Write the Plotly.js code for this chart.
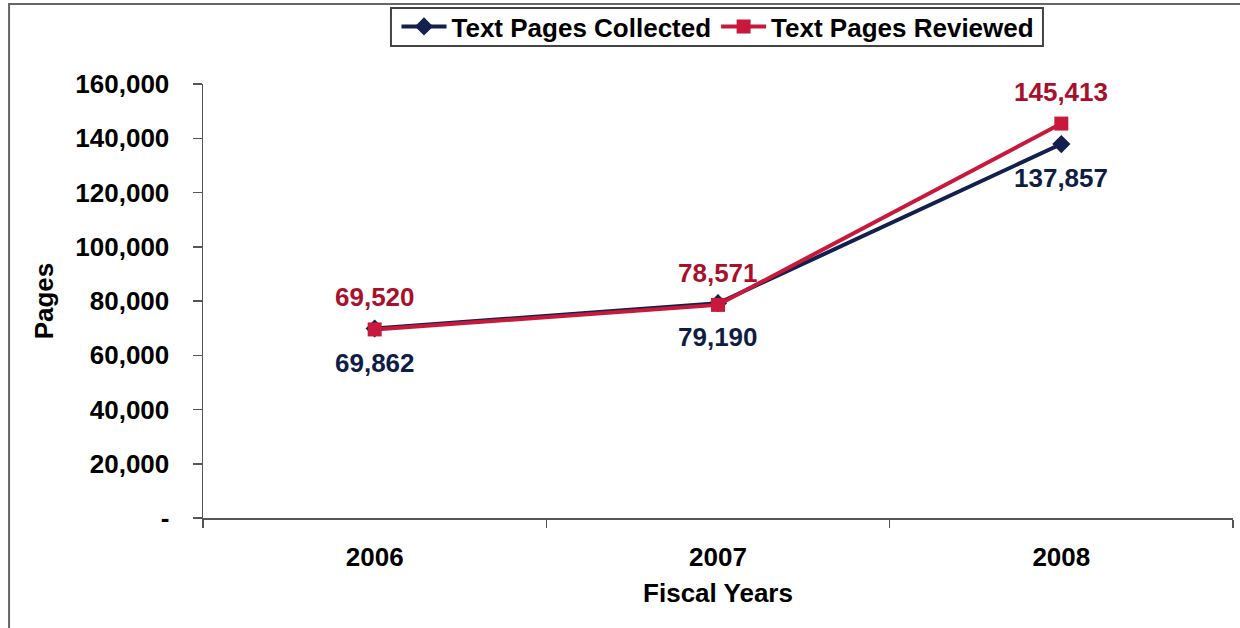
<!DOCTYPE html>
<html>
<head>
<meta charset="utf-8">
<script src="https://cdn.plot.ly/plotly-3.0.1.min.js"></script>
<style>html,body{margin:0;padding:0;background:#fff;}#chart{width:1240px;height:628px;}</style>
</head>
<body>
<div id="chart"></div>
<script>
const years = ["2006", "2007", "2008"];
const collected = [69862, 79190, 137857];
const reviewed = [69520, 78571, 145413];
const yTickVals = [0, 20000, 40000, 60000, 80000, 100000, 120000, 140000, 160000];
const yTickText = ["-", "20,000", "40,000", "60,000", "80,000", "100,000", "120,000", "140,000", "160,000"];
const seriesNames = ["Text Pages Collected", "Text Pages Reviewed"];

const fmt = v => v.toLocaleString("en-US");
const FAM = "Liberation Sans, Arial, sans-serif";
const NAVY = "#13204d";
const RED = "#c8193c";
const FS = 26;

const traces = [
  {
    x: years, y: collected, name: seriesNames[0], type: "scatter", mode: "lines+markers",
    line: {color: NAVY, width: 4},
    marker: {symbol: "diamond", size: 14, color: NAVY},
    cliponaxis: false
  },
  {
    x: years, y: reviewed, name: seriesNames[1], type: "scatter", mode: "lines+markers",
    line: {color: RED, width: 4},
    marker: {symbol: "square", size: 14, color: RED},
    cliponaxis: false
  }
];

// category axis: annotations use the serial index of each category
const annotations = [];
years.forEach((yr, i) => {
  annotations.push({x: i, y: collected[i], xref: "x", yref: "y", text: fmt(collected[i]),
    showarrow: false, yshift: -34, font: {family: FAM, size: FS, color: "#0f1d45", weight: 700}});
  annotations.push({x: i, y: reviewed[i], xref: "x", yref: "y", text: fmt(reviewed[i]),
    showarrow: false, yshift: 32, font: {family: FAM, size: FS, color: "#a8102c", weight: 700}});
});

const layout = {
  width: 1240, height: 628,
  margin: {l: 203, r: 7, t: 84, b: 110},
  paper_bgcolor: "#fff", plot_bgcolor: "#fff",
  font: {family: FAM, size: FS, color: "#000", weight: 700},
  showlegend: true,
  legend: {
    orientation: "h", x: 0.5, xanchor: "center", yref: "container", y: 0.9952, yanchor: "top",
    borderwidth: 0, bgcolor: "rgba(0,0,0,0)", itemwidth: 45,
    font: {family: FAM, size: FS, color: "#000", weight: 700},
    itemclick: false
  },
  xaxis: {
    type: "category", range: [-0.5, 2.5],
    showline: true, linecolor: "#555", linewidth: 1.5,
    ticks: "outside", tickson: "boundaries", ticklen: 8, tickcolor: "#555", tickwidth: 1.5,
    ticklabelstandoff: 15,
    showgrid: false, zeroline: false,
    tickfont: {family: FAM, size: FS, color: "#000", weight: 700},
    title: {text: "Fiscal Years", standoff: 13, font: {family: FAM, size: FS, color: "#000", weight: 700}}
  },
  yaxis: {
    range: [0, 160000],
    tickvals: yTickVals, ticktext: yTickText,
    showline: true, linecolor: "#555", linewidth: 1.5,
    ticks: "outside", ticklen: 9, tickcolor: "#555", tickwidth: 1.5,
    ticklabelstandoff: 18,
    showgrid: false, zeroline: false,
    tickfont: {family: FAM, size: FS, color: "#000", weight: 700},
    title: {text: "Pages", standoff: 14, font: {family: FAM, size: FS, color: "#000", weight: 700}}
  },
  annotations: annotations,
  shapes: [
    {type: "path", xref: "paper", yref: "paper",
     path: "M -0.1883,-0.3 L -0.1883,1.1843 L 1.05,1.1843",
     line: {color: "#666", width: 2}},
    {type: "rect", xref: "paper", yref: "paper",
     x0: 0.1825, x1: 0.8155, y0: 1.0876, y1: 1.1751,
     line: {color: "#444", width: 2}}
  ]
};

Plotly.newPlot("chart", traces, layout, {displayModeBar: false, staticPlot: true});
</script>
</body>
</html>
